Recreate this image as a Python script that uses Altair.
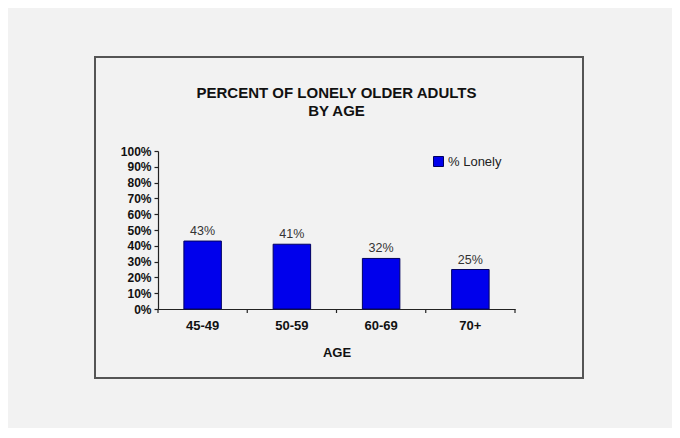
import altair as alt
import pandas as pd

ages = ["45-49", "50-59", "60-69", "70+"]
lonely = [0.43, 0.41, 0.32, 0.25]
series_name = "% Lonely"
title_lines = ["PERCENT OF LONELY OLDER ADULTS", "BY AGE"]
y_ticks = [0.0, 0.1, 0.2, 0.3, 0.4, 0.5, 0.6, 0.7, 0.8, 0.9, 1.0]

df = pd.DataFrame({"age": ages, "value": lonely, "series": [series_name] * len(ages)})

FONT = "Liberation Sans"
BLUE = "#0000ec"
OUTLINE = "#000060"
AXIS_COLOR = "#222"

x_scale = alt.Scale(paddingInner=0, paddingOuter=0)
x_axis = alt.Axis(title="AGE", labelAngle=0, labelFontSize=13, labelFontWeight="bold",
                  labelPadding=10, titleFontSize=13, titleFontWeight="bold",
                  titlePadding=14, ticks=False)
x_enc = alt.X("age:N", sort=ages, scale=x_scale, axis=x_axis)
y_enc = alt.Y("value:Q", scale=alt.Scale(domain=[0, 1]),
              axis=alt.Axis(title=None, format=".0%", values=y_ticks, labelOverlap=False,
                            labelFontSize=12, labelFontWeight="bold", grid=False,
                            ticks=True, tickSize=4, labelPadding=3))

base = alt.Chart(df).encode(x=x_enc, y=y_enc)

bars = base.mark_bar(stroke=OUTLINE, strokeWidth=1,
                     width=alt.RelativeBandSize(0.42)).encode(
    color=alt.Color("series:N", scale=alt.Scale(range=[BLUE]),
                    legend=alt.Legend(title=None, orient="none", legendX=274, legendY=4,
                                      symbolType="square", symbolSize=100,
                                      symbolStrokeColor=OUTLINE, symbolStrokeWidth=1,
                                      labelFontSize=13, labelFont=FONT, labelColor="#222",
                                      labelOffset=3, padding=0)),
)

labels = base.mark_text(dy=-10, fontSize=12.5, font=FONT, color="#333").encode(
    text=alt.Text("value:Q", format=".0%"),
)

# category-boundary tick marks on the x axis
ticks_start = alt.Chart(df).mark_rule(color=AXIS_COLOR, strokeWidth=1.2).encode(
    x=alt.X("age:N", sort=ages, scale=x_scale, axis=x_axis, bandPosition=0),
    y=alt.value(158), y2=alt.value(162),
)
ticks_end = alt.Chart(df.iloc[[-1]]).mark_rule(color=AXIS_COLOR, strokeWidth=1.2).encode(
    x=alt.X("age:N", sort=ages, scale=x_scale, axis=x_axis, bandPosition=1),
    y=alt.value(158), y2=alt.value(162),
)

frame = alt.Chart(pd.DataFrame({"k": [0]})).mark_rect(
    fill=None, stroke="#555", strokeWidth=2
).encode(x=alt.value(-63), x2=alt.value(425), y=alt.value(-94), y2=alt.value(227))

chart = alt.layer(bars, labels, ticks_start, ticks_end, frame).properties(
    width=357, height=158,
    title=alt.TitleParams(text=title_lines, fontSize=15, fontWeight="bold", font=FONT,
                          color="#111", anchor="middle", lineHeight=18, offset=32, dy=95),
    padding={"left": 150, "top": 143, "right": 157, "bottom": 119},
    autosize=alt.AutoSizeParams(type="none"),
    background="#f2f2f2",
).configure_view(stroke=None).configure_axis(
    labelFont=FONT, titleFont=FONT, labelColor="#111", titleColor="#111",
    domainColor=AXIS_COLOR, tickColor=AXIS_COLOR, domainWidth=1.2, tickWidth=1.2
)

chart.save("out.html", embed_options={"renderer": "svg", "actions": False})
